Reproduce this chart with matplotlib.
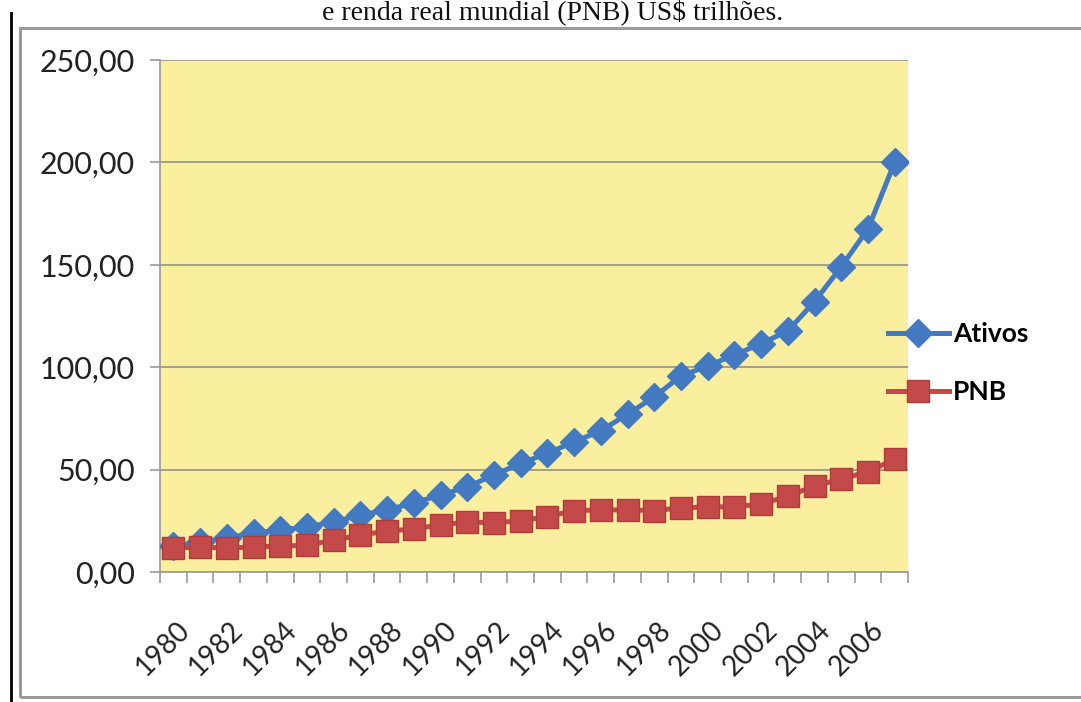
import matplotlib.pyplot as plt
from matplotlib.patches import Rectangle
from matplotlib.lines import Line2D
import matplotlib.transforms as mtransforms

# dados (US$ trilhões)
anos = list(range(1980, 2008))
ativos = [12.5, 14.6, 16.6, 19.0, 20.5, 22.0, 24.4, 27.8, 30.3, 33.7,
          37.6, 41.5, 47.4, 53.0, 58.0, 63.5, 69.0, 77.0, 85.5, 95.7,
          100.6, 106.0, 111.5, 117.7, 132.0, 149.0, 167.5, 200.0]
pnb = [11.7, 12.2, 11.7, 12.2, 12.7, 13.0, 15.6, 18.0, 20.0, 21.0,
       23.0, 24.4, 24.0, 25.0, 27.0, 30.0, 30.3, 30.3, 30.0, 31.3,
       31.8, 31.8, 33.2, 37.0, 42.0, 45.4, 49.0, 55.0]
rotulos_x = [str(a) for a in anos]
y_ticks = [0, 50, 100, 150, 200, 250]

azul = '#4279C1'
vermelho = '#C44A4A'

fig = plt.figure(figsize=(10.81, 7.02), dpi=100)
fig.patch.set_facecolor('white')

# moldura do gráfico e linha preta da página
fig.patches.append(Rectangle((20 / 1081, 1 - 697 / 702), 1.2, (697 - 28) / 702,
                             transform=fig.transFigure, fill=False,
                             edgecolor='#9a9a9a', linewidth=2.2))
fig.lines.append(Line2D([11 / 1081, 11 / 1081], [0, 1 - 13 / 702],
                        transform=fig.transFigure, color='black', linewidth=2))

# titulo no topo
fig.text(0.511, 1 - 19 / 702, 'e renda real mundial (PNB) US$ trilhões.',
         ha='center', va='baseline', fontsize=20, family='Liberation Serif',
         color='#111111')

ax = fig.add_axes([160 / 1081, 1 - 572 / 702, 748 / 1081, 512 / 702])
ax.set_facecolor('#F9EF9E')
x = list(range(len(anos)))

ax.plot(x, ativos, color=azul, linewidth=3.6, marker='D', markersize=14,
        markeredgecolor=azul, label='Ativos', zorder=3)
ax.plot(x, pnb, color=vermelho, linewidth=3.6, marker='s', markersize=15.5,
        markeredgecolor='#B03B3B', markeredgewidth=1, label='PNB', zorder=4)

ax.set_xlim(-0.5, len(anos) - 0.5)
ax.set_ylim(0, 250)
ax.set_yticks(y_ticks)
ax.set_yticklabels([f'{v:.2f}'.replace('.', ',') for v in y_ticks],
                   fontsize=22, family='Lato', color='#222222')
ax.yaxis.grid(True, color='#8a8a8a', linewidth=1.1)
ax.set_axisbelow(True)

# ticks nas fronteiras das categorias, rotulos a cada dois anos
ax.set_xticks([i - 0.5 for i in range(len(anos) + 1)])
ax.set_xticklabels([])
ax.set_xticks(x[::2], minor=True)
ax.set_xticklabels(rotulos_x[::2], minor=True, rotation=45, ha='right',
                   va='center', rotation_mode='anchor', fontsize=20,
                   family='Lato', color='#222222')
ax.tick_params(axis='x', which='major', length=8, color='#9a9a9a', width=1.2)
ax.tick_params(axis='x', which='minor', length=0, pad=39)
ax.tick_params(axis='y', length=7, color='#9a9a9a', width=1.2, pad=11)
desloc = mtransforms.ScaledTranslation(12 / 100, 0, fig.dpi_scale_trans)
for lbl in ax.get_xticklabels(minor=True):
    lbl.set_transform(lbl.get_transform() + desloc)

for lado in ['top', 'right']:
    ax.spines[lado].set_visible(False)
ax.spines['left'].set_color('#9a9a9a')
ax.spines['bottom'].set_color('#9a9a9a')
ax.spines['left'].set_linewidth(1.2)
ax.spines['bottom'].set_linewidth(1.2)

leg = ax.legend(loc='center left', bbox_to_anchor=(888 / 1081, 1 - 363 / 702),
                bbox_transform=fig.transFigure, frameon=False,
                prop={'family': 'Lato', 'weight': 'bold', 'size': 19},
                handlelength=2.3, handletextpad=0.15, labelspacing=1.3,
                borderaxespad=0, borderpad=0)

fig.savefig('out.png', dpi=100)
